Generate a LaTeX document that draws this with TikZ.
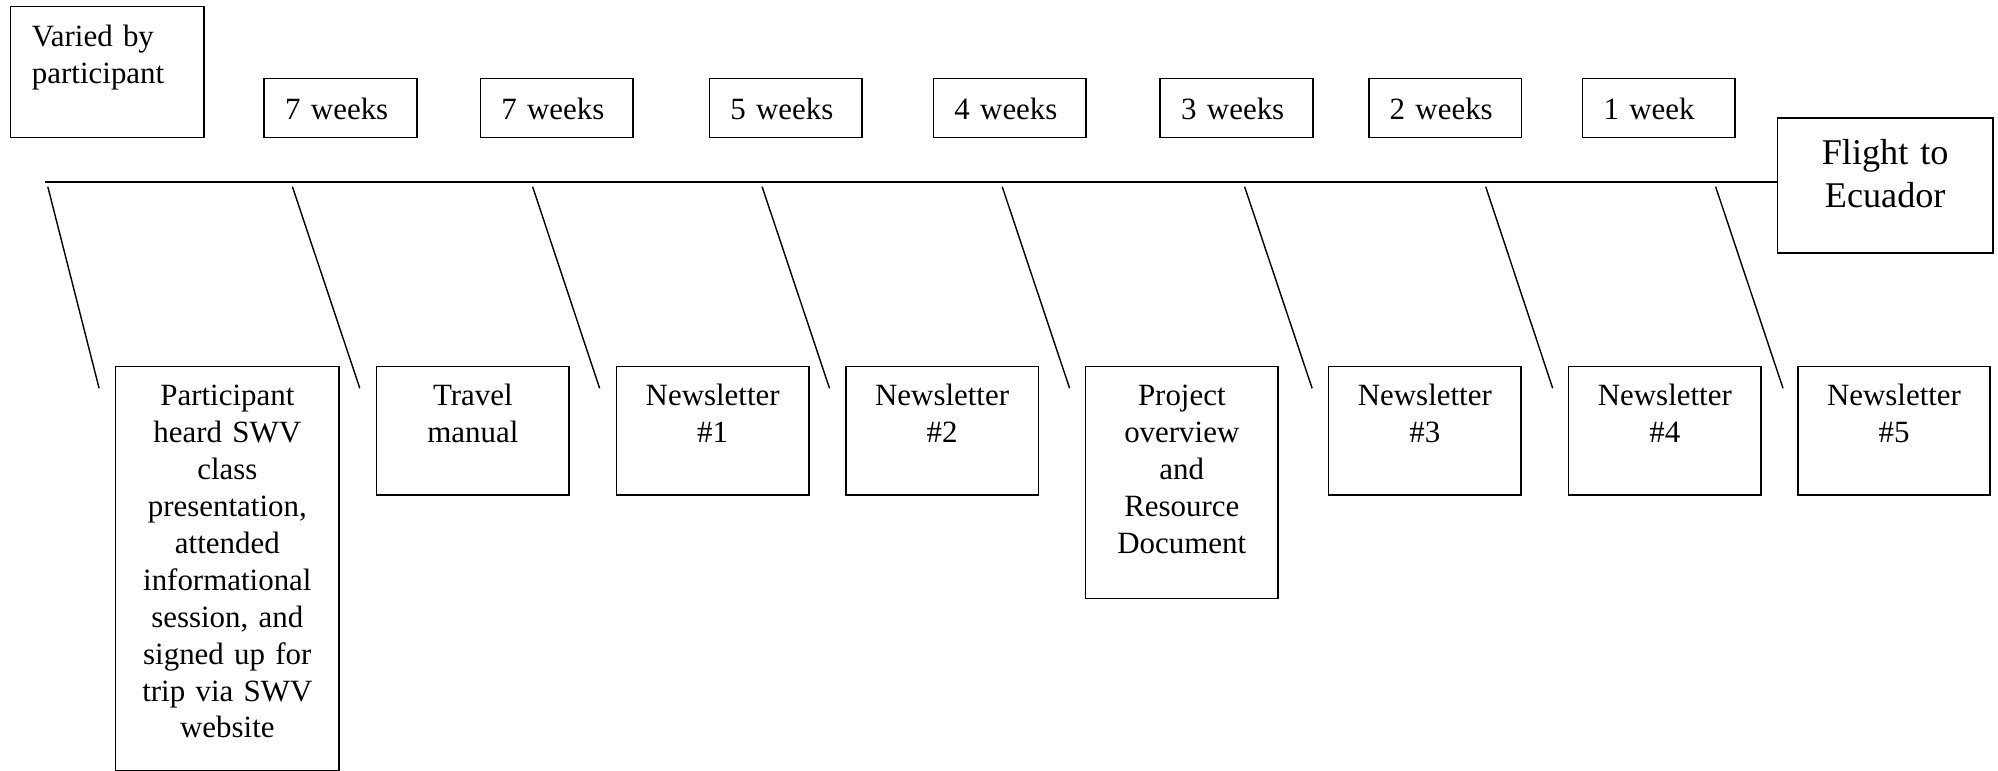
\documentclass[tikz,border=0pt]{standalone}
\usepackage{fontspec}
\setmainfont{Liberation Serif}

\begin{document}
\begin{tikzpicture}[
    every node/.style={font=\fontsize{8.8pt}{10.5pt}\selectfont},
    wk/.style={draw, line width=0.45pt, anchor=north west, inner xsep=0.21cm, inner ysep=0pt,
        text width=1.107cm, align=left, text height=0.406cm, text depth=0.184cm},
    doc/.style={draw, line width=0.45pt, anchor=north west, inner sep=0pt,
        text width=1.924cm, align=center, text height=0.393cm, text depth=0.89cm},
    trip/.style={draw, line width=0.45pt, anchor=north west, inner sep=0pt,
        text width=2.152cm, align=center, text height=0.46cm, text depth=0.89cm,
        font=\fontsize{10.3pt}{12.3pt}\selectfont},
    lead/.style={line width=0.4pt}
]
    \useasboundingbox (0,0) rectangle (19.98,7.71);

    % time between steps
    \node[wk, text width=1.505cm, inner xsep=0.214cm, text height=0.403cm, text depth=0.907cm]
        (w0) at (0.098,7.653) {Varied by\\participant};
    \node[wk] (w1) at (2.634,6.933) {7 weeks};
    \node[wk] (w2) at (4.795,6.933) {7 weeks};
    \node[wk] (w3) at (7.085,6.933) {5 weeks};
    \node[wk] (w4) at (9.326,6.933) {4 weeks};
    \node[wk] (w5) at (11.594,6.933) {3 weeks};
    \node[wk] (w6) at (13.679,6.933) {2 weeks};
    \node[wk] (w7) at (15.817,6.933) {1 week};

    \node[trip] (flight) at (17.768,6.537) {Flight to\\Ecuador};

    % steps
    \node[doc, text width=2.237cm, text depth=3.647cm] (e0) at (1.147,4.053)
        {Participant\\heard SWV\\class\\presentation,\\attended\\informational\\session, and\\signed up for\\trip via SWV\\website};
    \node[doc] (e1) at (3.759,4.053) {Travel\\manual};
    \node[doc] (e2) at (6.157,4.053) {Newsletter\\\#1};
    \node[doc] (e3) at (8.451,4.053) {Newsletter\\\#2};
    \node[doc, text depth=1.927cm] (e4) at (10.848,4.053) {Project\\overview\\and\\Resource\\Document};
    \node[doc] (e5) at (13.278,4.053) {Newsletter\\\#3};
    \node[doc] (e6) at (15.678,4.053) {Newsletter\\\#4};
    \node[doc] (e7) at (17.970,4.053) {Newsletter\\\#5};

    % timeline
    \coordinate (tl) at (0.446,5.893);
    \draw[line width=0.5pt] (tl) -- (tl -| flight.west);

    \coordinate (a0) at (0.478,5.843);  \coordinate (b0) at (0.991,3.827);
    \coordinate (a1) at (2.924,5.843);  \coordinate (b1) at (3.598,3.827);
    \coordinate (a2) at (5.326,5.843);  \coordinate (b2) at (5.996,3.827);
    \coordinate (a3) at (7.621,5.843);  \coordinate (b3) at (8.295,3.827);
    \coordinate (a4) at (10.022,5.843); \coordinate (b4) at (10.696,3.827);
    \coordinate (a5) at (12.446,5.843); \coordinate (b5) at (13.121,3.827);
    \coordinate (a6) at (14.857,5.843); \coordinate (b6) at (15.527,3.827);
    \coordinate (a7) at (17.156,5.843); \coordinate (b7) at (17.830,3.827);

    \draw[lead] (a0) -- (b0);
    \draw[lead] (a1) -- (b1);
    \draw[lead] (a2) -- (b2);
    \draw[lead] (a3) -- (b3);
    \draw[lead] (a4) -- (b4);
    \draw[lead] (a5) -- (b5);
    \draw[lead] (a6) -- (b6);
    \draw[lead] (a7) -- (b7);
\end{tikzpicture}
\end{document}
